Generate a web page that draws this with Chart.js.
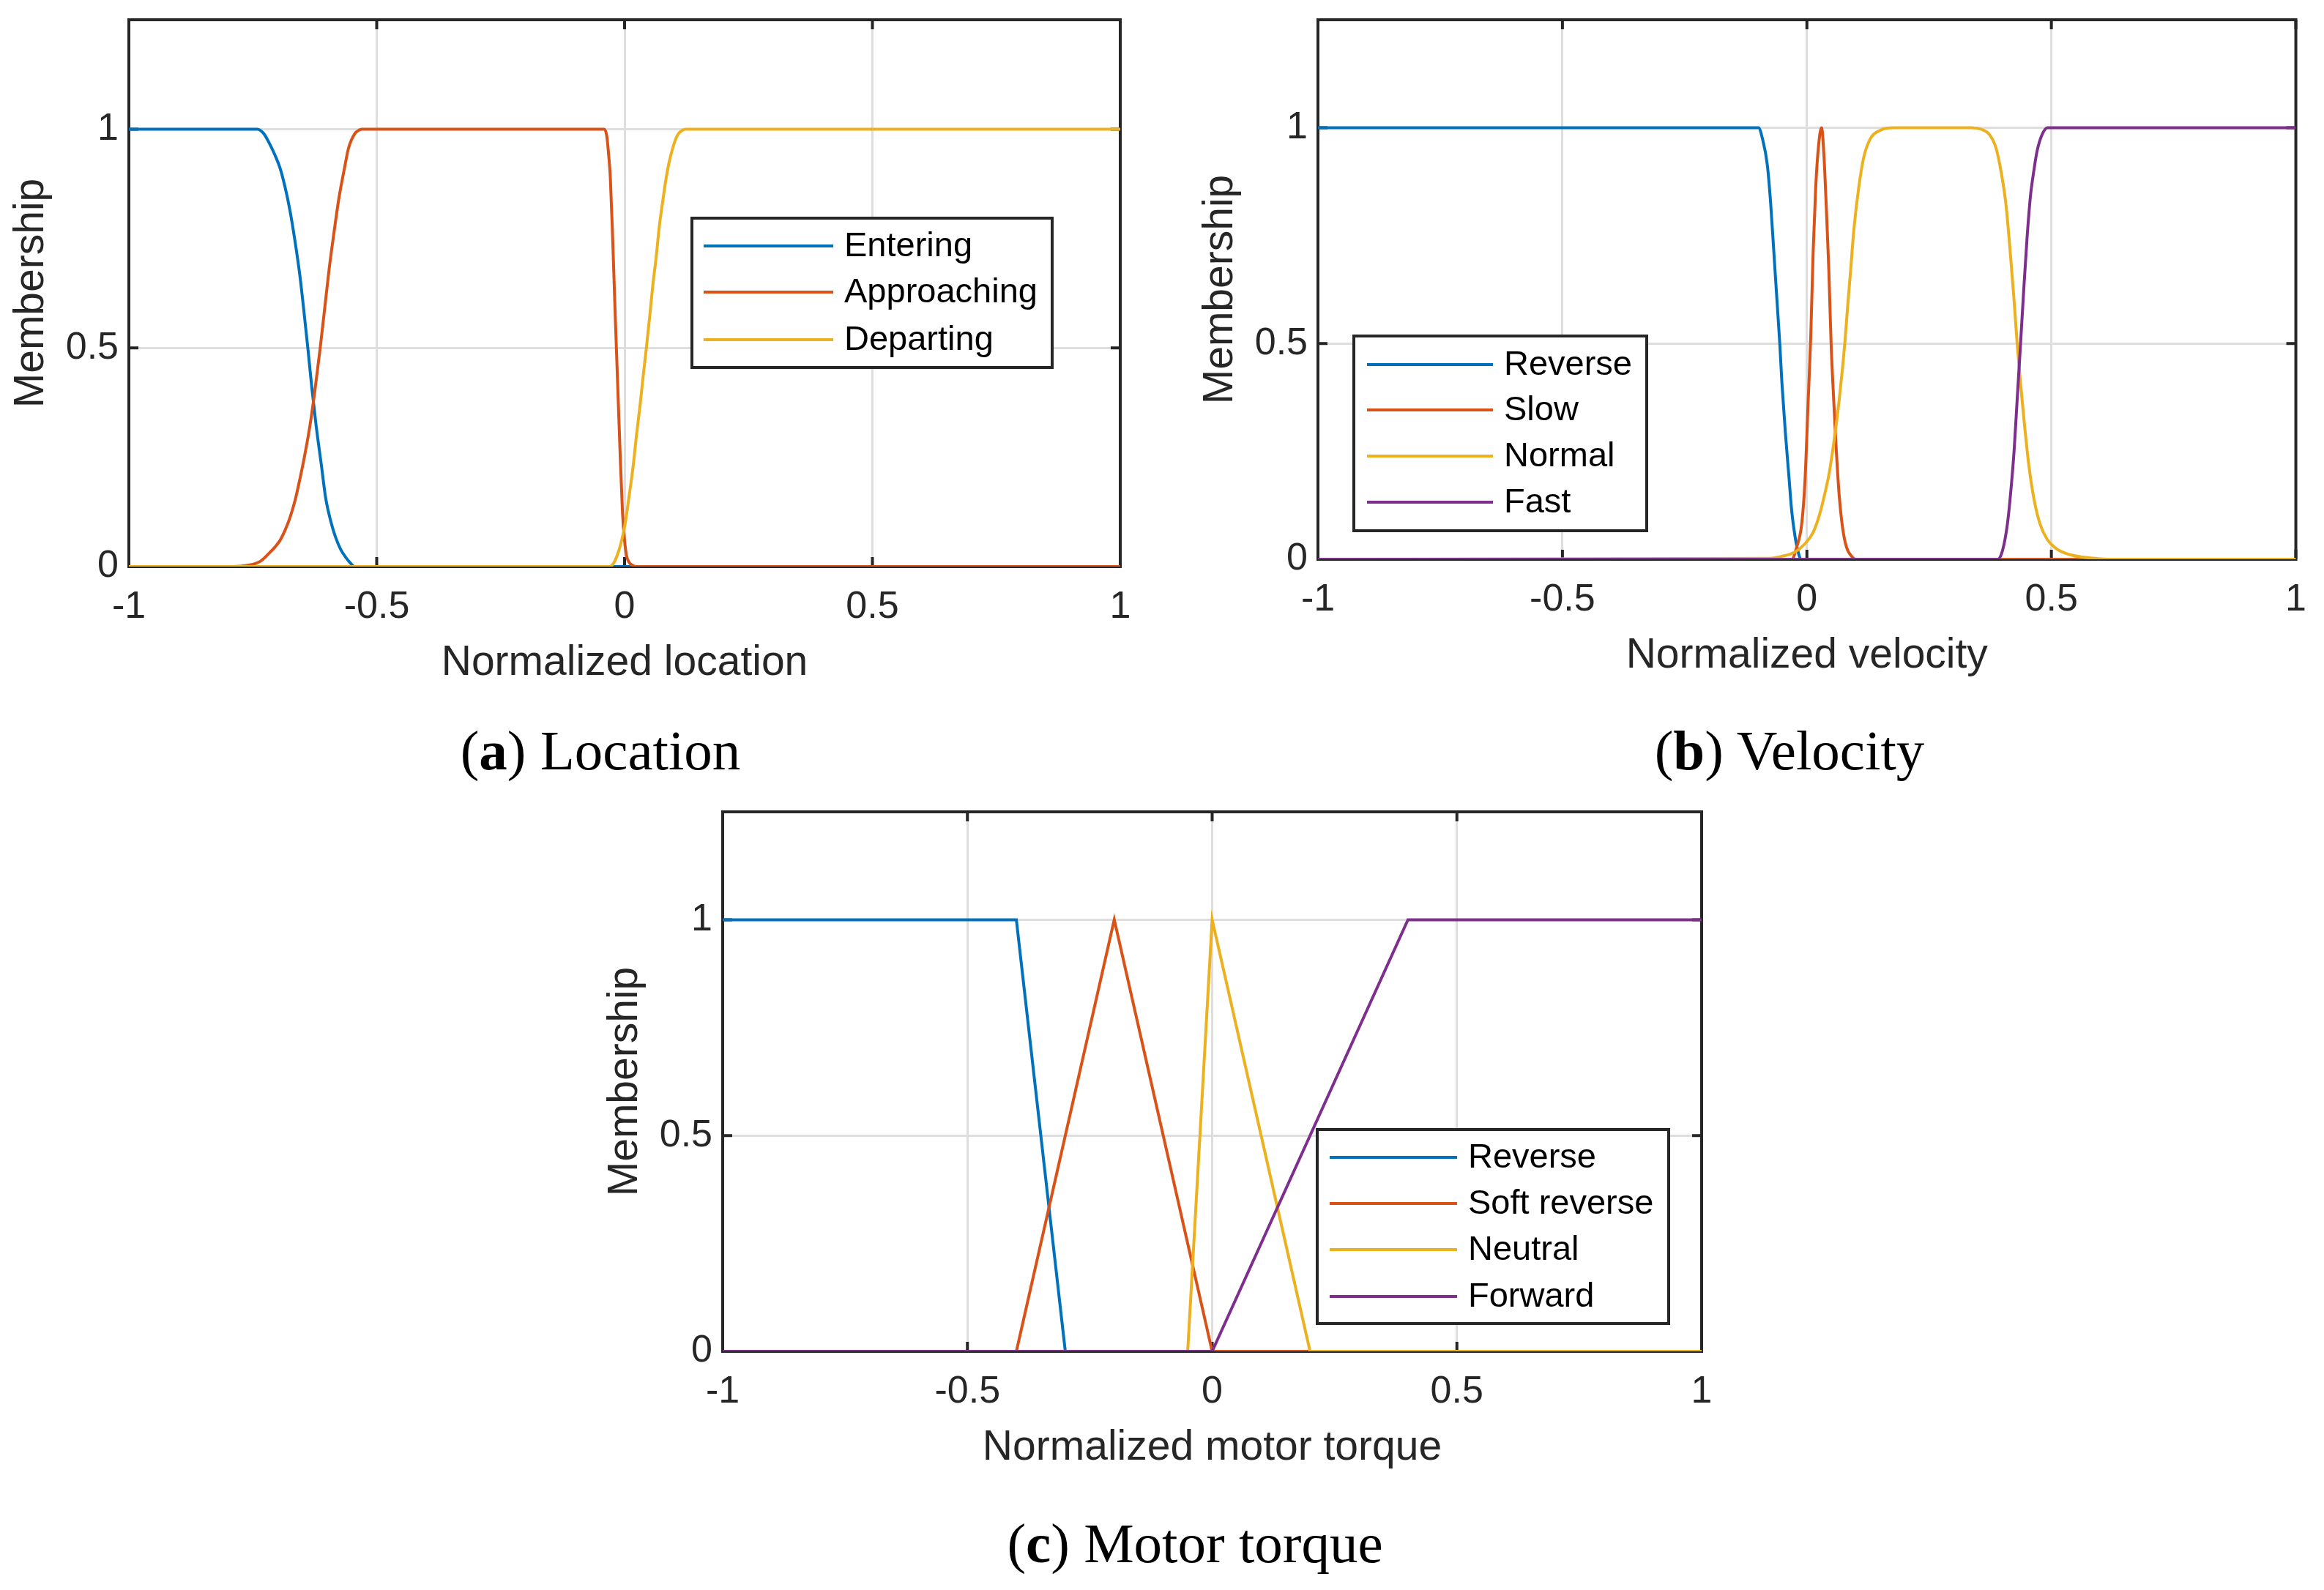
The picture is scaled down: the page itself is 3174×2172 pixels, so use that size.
<!DOCTYPE html>
<html>
<head>
<meta charset="utf-8">
<script src="https://cdn.jsdelivr.net/npm/chart.js@4/dist/chart.umd.min.js"></script>
<style>
  html, body { margin: 0; padding: 0; background: #ffffff; }
  body { width: 3174px; height: 2172px; position: relative; overflow: hidden; }
  canvas { position: absolute; }
  .cap { position: absolute; font-family: 'Liberation Serif', 'Times New Roman', serif; font-size: 77px; line-height: 1; color: #000; white-space: nowrap; transform: translateX(-50%); }
  .cap b { font-weight: bold; }
</style>
</head>
<body>
<canvas id="chartA" width="1587" height="960" style="left:0px;top:0px;width:1587px;height:960px"></canvas>
<canvas id="chartB" width="1587" height="960" style="left:1587px;top:0px;width:1587px;height:960px"></canvas>
<canvas id="chartC" width="1587" height="960" style="left:780px;top:1060px;width:1587px;height:960px"></canvas>
<div class="cap" style="left:820px;top:987px">(<b>a</b>) Location</div>
<div class="cap" style="left:2444px;top:987px">(<b>b</b>) Velocity</div>
<div class="cap" style="left:1632px;top:2070px">(<b>c</b>) Motor torque</div>
<script>
// ---------- tick labels ----------
const xTickValues = [-1, -0.5, 0, 0.5, 1];
const xTickLabels = ['-1', '-0.5', '0', '0.5', '1'];
const yTickValues = [0, 0.5, 1];
const yTickLabels = ['0', '0.5', '1'];

// ---------- (a) Location ----------
const locLabels = ['Entering', 'Approaching', 'Departing'];
const enteringX = [-1, -0.741, -0.728, -0.715, -0.705, -0.695, -0.685, -0.675, -0.665, -0.655, -0.647, -0.639, -0.631, -0.622, -0.612, -0.603, -0.593, -0.583, -0.573, -0.563, -0.553, -0.544, 1];
const enteringY = [1, 1, 0.99, 0.964, 0.94, 0.911, 0.868, 0.814, 0.745, 0.665, 0.585, 0.50, 0.41, 0.32, 0.235, 0.157, 0.105, 0.067, 0.040, 0.022, 0.008, 0, 0];
const approachingX = [-1, -0.79, -0.76, -0.735, -0.715, -0.705, -0.695, -0.685, -0.675, -0.665, -0.655, -0.645, -0.635, -0.625, -0.614, -0.605, -0.596, -0.586, -0.576, -0.566, -0.557, -0.544, -0.535, -0.53, -0.041, -0.036, -0.032, -0.0287, -0.024, -0.019, -0.014, -0.009, -0.004, 0, 0.004, 0.009, 0.016, 0.024, 1];
const approachingY = [0, 0, 0.003, 0.012, 0.033, 0.045, 0.06, 0.083, 0.112, 0.15, 0.20, 0.256, 0.32, 0.40, 0.50, 0.59, 0.68, 0.765, 0.844, 0.905, 0.956, 0.99, 0.998, 1, 1, 0.985, 0.94, 0.889, 0.75, 0.58, 0.42, 0.26, 0.12, 0.06, 0.025, 0.01, 0.003, 0, 0];
const departingX = [-1, -0.030, -0.023, -0.016, -0.008, 0.001, 0.009, 0.0175, 0.024, 0.031, 0.038, 0.044, 0.051, 0.057, 0.064, 0.070, 0.077, 0.083, 0.090, 0.097, 0.103, 0.109, 0.116, 0.123, 1];
const departingY = [0, 0, 0.006, 0.022, 0.05, 0.097, 0.16, 0.231, 0.30, 0.366, 0.44, 0.50, 0.575, 0.643, 0.71, 0.777, 0.835, 0.882, 0.925, 0.956, 0.977, 0.99, 0.997, 1, 1];

// ---------- (b) Velocity ----------
const velLabels = ['Reverse', 'Slow', 'Normal', 'Fast'];
const velReverseX = [-1, -0.099, -0.091, -0.081, -0.074, -0.0675, -0.061, -0.0555, -0.051, -0.044, -0.037, -0.031, -0.024, -0.017, -0.012, 1];
const velReverseY = [1, 1, 0.975, 0.914, 0.823, 0.71, 0.596, 0.50, 0.407, 0.293, 0.195, 0.111, 0.051, 0.013, 0, 0];
const velSlowX = [-1, -0.031, -0.021, -0.0107, -0.004, 0.0027, 0.008, 0.0127, 0.018, 0.024, 0.030, 0.0348, 0.0394, 0.0448, 0.0495, 0.0548, 0.060, 0.066, 0.073, 0.081, 0.093, 0.0996, 1];
const velSlowY = [0, 0, 0.028, 0.081, 0.18, 0.369, 0.52, 0.71, 0.861, 0.96, 1, 0.937, 0.823, 0.672, 0.5, 0.369, 0.255, 0.149, 0.073, 0.028, 0.005, 0, 0];
const velNormalX = [-1, -0.081, -0.051, -0.024, -0.004, 0.0127, 0.026, 0.036, 0.046, 0.056, 0.066, 0.073, 0.0775, 0.083, 0.0896, 0.096, 0.106, 0.116, 0.130, 0.150, 0.176, 0.337, 0.357, 0.374, 0.387, 0.397, 0.407, 0.416, 0.424, 0.430, 0.437, 0.444, 0.454, 0.464, 0.477, 0.491, 0.511, 0.537, 0.564, 0.594, 0.618, 1];
const velNormalY = [0, 0.002, 0.007, 0.017, 0.036, 0.062, 0.104, 0.149, 0.202, 0.278, 0.369, 0.445, 0.5, 0.581, 0.672, 0.763, 0.861, 0.93, 0.975, 0.994, 1, 1, 0.996, 0.983, 0.952, 0.899, 0.823, 0.71, 0.596, 0.5, 0.407, 0.323, 0.217, 0.142, 0.081, 0.047, 0.024, 0.011, 0.005, 0.0015, 0, 0];
const velFastX = [-1, 0.390, 0.400, 0.410, 0.417, 0.424, 0.430, 0.437, 0.444, 0.4505, 0.457, 0.464, 0.4706, 0.4806, 0.492, 1];
const velFastY = [0, 0, 0.02, 0.081, 0.157, 0.255, 0.369, 0.5, 0.634, 0.748, 0.839, 0.899, 0.945, 0.983, 1, 1];

// ---------- (c) Motor torque ----------
const torLabels = ['Reverse', 'Soft reverse', 'Neutral', 'Forward'];
const torReverseX = [-1, -0.4, -0.3, 1];
const torReverseY = [1, 1, 0, 0];
const torSoftX = [-1, -0.4, -0.2, 0, 1];
const torSoftY = [0, 0, 1, 0, 0];
const torNeutralX = [-1, -0.05, 0, 0.2, 1];
const torNeutralY = [0, 0, 1, 0, 0];
const torForwardX = [-1, 0, 0.4, 1];
const torForwardY = [0, 0, 1, 1];

const seriesColors = ['#0072BD', '#D95319', '#EDB120', '#7E2F8E'];
const SANS = "'Liberation Sans', Arial, Helvetica, sans-serif";
const AXIS_COLOR = '#262626';

// Box, inward ticks (drawn under the data, as in the source figure)
const boxPlugin = {
  id: 'boxTicks',
  beforeDatasetsDraw(chart) {
    const {ctx, chartArea: a, scales} = chart;
    ctx.save();
    ctx.strokeStyle = AXIS_COLOR;
    ctx.lineWidth = 4;
    ctx.lineCap = 'butt';
    const tl = 13;
    ctx.beginPath();
    xTickValues.forEach(v => {
      const px = scales.x.getPixelForValue(v);
      ctx.moveTo(px, a.bottom); ctx.lineTo(px, a.bottom - tl);
      ctx.moveTo(px, a.top); ctx.lineTo(px, a.top + tl);
    });
    yTickValues.forEach(v => {
      const py = scales.y.getPixelForValue(v);
      ctx.moveTo(a.left, py); ctx.lineTo(a.left + tl, py);
      ctx.moveTo(a.right, py); ctx.lineTo(a.right - tl, py);
    });
    ctx.stroke();
    ctx.strokeRect(a.left, a.top, a.right - a.left, a.bottom - a.top);
    ctx.restore();
  }
};

// Legend box drawn inside the axes
const legendPlugin = {
  id: 'boxLegend',
  afterDatasetsDraw(chart, args, opts) {
    const {ctx} = chart;
    ctx.save();
    ctx.fillStyle = '#ffffff';
    ctx.fillRect(opts.box[0], opts.box[1], opts.box[2] - opts.box[0], opts.box[3] - opts.box[1]);
    ctx.strokeStyle = AXIS_COLOR;
    ctx.lineWidth = 4;
    ctx.strokeRect(opts.box[0], opts.box[1], opts.box[2] - opts.box[0], opts.box[3] - opts.box[1]);
    ctx.font = '47px ' + SANS;
    ctx.textBaseline = 'middle';
    ctx.textAlign = 'left';
    chart.data.datasets.forEach((ds, i) => {
      const y = opts.rows[i];
      ctx.strokeStyle = ds.borderColor;
      ctx.lineWidth = 4;
      ctx.beginPath();
      ctx.moveTo(opts.line[0], y); ctx.lineTo(opts.line[1], y);
      ctx.stroke();
      ctx.fillStyle = '#000000';
      ctx.fillText(ds.label, opts.textX, y + 1);
    });
    ctx.restore();
  }
};

function makeChart(id, cfg) {
  const n = cfg.series.length;
  const datasets = cfg.series.map((s, i) => ({
    label: s.label,
    data: s.x.map((xv, j) => ({x: xv, y: s.y[j]})),
    borderColor: seriesColors[i],
    backgroundColor: seriesColors[i],
    borderWidth: 4,
    pointRadius: 0,
    fill: false,
    tension: 0,
    cubicInterpolationMode: cfg.smooth ? 'monotone' : 'default',
    order: n - i
  }));
  return new Chart(document.getElementById(id), {
    type: 'line',
    data: {datasets},
    plugins: [boxPlugin, legendPlugin],
    options: {
      responsive: false,
      animation: false,
      devicePixelRatio: 1,
      events: [],
      layout: {padding: {left: 0, top: cfg.area.top, right: 1587 - cfg.area.right, bottom: 0}},
      plugins: {
        legend: {display: false},
        tooltip: {enabled: false},
        boxLegend: cfg.legend
      },
      scales: {
        x: {
          type: 'linear', min: -1, max: 1,
          afterBuildTicks: s => { s.ticks = xTickValues.map(v => ({value: v})); },
          afterFit: s => { s.height = 960 - cfg.area.bottom; },
          grid: {color: '#dedede', lineWidth: 3, drawTicks: false},
          border: {display: false},
          ticks: {
            font: {family: SANS, size: 52}, color: AXIS_COLOR, padding: 24,
            maxRotation: 0, autoSkip: false,
            callback: v => xTickLabels[xTickValues.indexOf(v)]
          },
          title: {display: true, text: cfg.xTitle, font: {family: SANS, size: 57}, color: AXIS_COLOR,
                  padding: {top: 0, bottom: cfg.xTitlePad}}
        },
        y: {
          type: 'linear', min: 0, max: 1.25,
          afterBuildTicks: s => { s.ticks = yTickValues.map(v => ({value: v})); },
          afterFit: s => { s.width = cfg.area.left; s.paddingTop = 0; s.paddingBottom = 0; },
          grid: {color: '#dedede', lineWidth: 3, drawTicks: false},
          border: {display: false},
          ticks: {
            font: {family: SANS, size: 52}, color: AXIS_COLOR, padding: 14,
            autoSkip: false,
            callback: v => yTickLabels[yTickValues.indexOf(v)]
          },
          title: {display: true, text: 'Membership', font: {family: SANS, size: 57}, color: AXIS_COLOR,
                  padding: {top: cfg.yTitlePad, bottom: 0}}
        }
      }
    }
  });
}

makeChart('chartA', {
  smooth: true,
  area: {left: 176, right: 1530, top: 27, bottom: 774},
  xTitle: 'Normalized location', xTitlePad: 20, yTitlePad: 9,
  series: [
    {label: locLabels[0], x: enteringX, y: enteringY},
    {label: locLabels[1], x: approachingX, y: approachingY},
    {label: locLabels[2], x: departingX, y: departingY}
  ],
  legend: {box: [945, 298, 1437, 502], line: [961, 1138], textX: 1153, rows: [336, 399, 464]}
});

makeChart('chartB', {
  smooth: true,
  area: {left: 213, right: 1549, top: 27, bottom: 764},
  xTitle: 'Normalized velocity', xTitlePad: 30, yTitlePad: 46,
  series: [
    {label: velLabels[0], x: velReverseX, y: velReverseY},
    {label: velLabels[1], x: velSlowX, y: velSlowY},
    {label: velLabels[2], x: velNormalX, y: velNormalY},
    {label: velLabels[3], x: velFastX, y: velFastY}
  ],
  legend: {box: [262, 459, 662, 725], line: [280, 452], textX: 467, rows: [498, 560, 623, 686]}
});

makeChart('chartC', {
  smooth: false,
  area: {left: 207, right: 1544, top: 49, bottom: 786},
  xTitle: 'Normalized motor torque', xTitlePad: 8, yTitlePad: 40,
  series: [
    {label: torLabels[0], x: torReverseX, y: torReverseY},
    {label: torLabels[1], x: torSoftX, y: torSoftY},
    {label: torLabels[2], x: torNeutralX, y: torNeutralY},
    {label: torLabels[3], x: torForwardX, y: torForwardY}
  ],
  legend: {box: [1019, 483, 1499, 748], line: [1036, 1210], textX: 1225, rows: [521, 584, 647, 711]}
});
</script>
</body>
</html>
